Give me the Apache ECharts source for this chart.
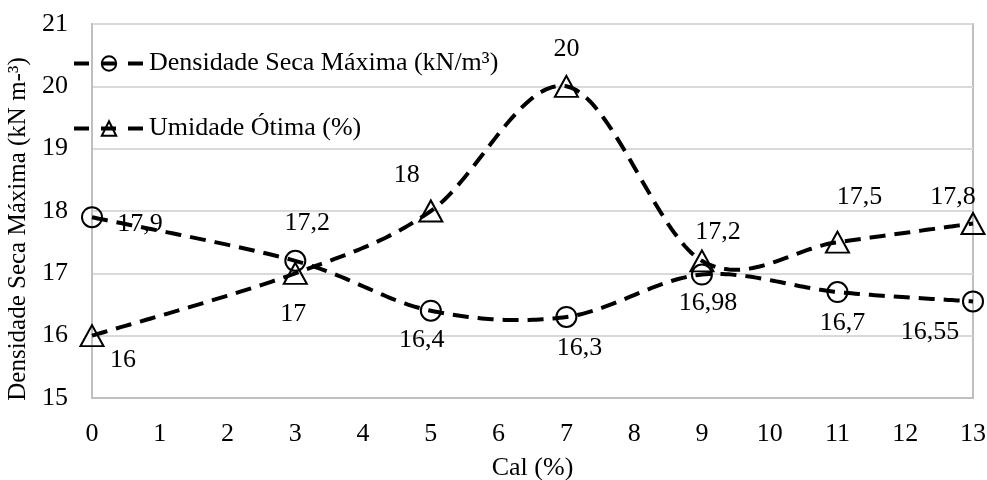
<!DOCTYPE html>
<html>
<head>
<meta charset="utf-8">
<script src="https://cdn.jsdelivr.net/npm/echarts@6/dist/echarts.min.js"></script>
<style>
  html, body { margin: 0; padding: 0; background: #fff; }
  #chart { width: 987px; height: 480px; }
</style>
</head>
<body>
<div id="chart"></div>
<script>
// Lime content (%) on the x axis
const cal = [0, 3, 5, 7, 9, 11, 13];
// Maximum dry density (kN/m³)
const densidade = [17.9, 17.2, 16.4, 16.3, 16.98, 16.7, 16.55];
// Optimum moisture content (%)
const umidade = [16, 17, 18, 20, 17.2, 17.5, 17.8];
const yTicks = [15, 16, 17, 18, 19, 20, 21];
const seriesNames = ['Densidade Seca Máxima (kN/m³)', 'Umidade Ótima (%)'];

// Label placement around each marker, [dx, dy] from the marker centre
const densLabelOffset = [[48, 7], [12, -38], [-9, 29], [13, 31], [6, 29], [5, 31], [-43, 31]];
const umidLabelOffset = [[31, 25], [-2, 41], [-24, -36], [0, -37], [16, -29], [22, -45], [-20, -26]];

const FONT = '"Liberation Serif", "Times New Roman", serif';
const fmt = v => String(v).replace('.', ',');

const LINE_W = 4;
const DASH = [16, 9];

function pairs(xs, ys, offsets) {
  return xs.map((x, i) => ({
    value: [x, ys[i]],
    label: { offset: offsets[i] }
  }));
}

// Cardinal (Catmull-Rom, 1/6 tangent) curve through the projected points,
// traced as a polyline so the dash pattern runs continuously.
function smoothCurve(ys) {
  return {
    type: 'custom',
    coordinateSystem: 'cartesian2d',
    silent: true,
    clip: false,
    z: 2,
    encode: { x: 0, y: 1 },
    data: cal.map((x, i) => [x, ys[i]]),
    renderItem: function (params, api) {
      if (params.dataIndex !== 0) return null;
      const p = cal.map((x, i) => api.coord([x, ys[i]]));
      const n = p.length;
      const out = [p[0].slice()];
      const steps = 40;
      for (let i = 0; i < n - 1; i++) {
        const p0 = p[Math.max(i - 1, 0)], p1 = p[i], p2 = p[i + 1], p3 = p[Math.min(i + 2, n - 1)];
        const c1 = [p1[0] + (p2[0] - p0[0]) / 6, p1[1] + (p2[1] - p0[1]) / 6];
        const c2 = [p2[0] - (p3[0] - p1[0]) / 6, p2[1] - (p3[1] - p1[1]) / 6];
        for (let s = 1; s <= steps; s++) {
          const t = s / steps, u = 1 - t;
          const a = u * u * u, b = 3 * u * u * t, c = 3 * u * t * t, d = t * t * t;
          out.push([
            a * p1[0] + b * c1[0] + c * c2[0] + d * p2[0],
            a * p1[1] + b * c1[1] + c * c2[1] + d * p2[1]
          ]);
        }
      }
      return {
        type: 'polyline',
        shape: { points: out },
        style: { stroke: '#000', lineWidth: LINE_W, lineDash: DASH, fill: 'none', lineCap: 'butt' }
      };
    }
  };
}

// Series line itself is hidden; the curve above draws it. Legend keeps the dashed line.
const lineStyle = { color: '#000', width: LINE_W, type: DASH, cap: 'butt', opacity: 0 };
// hollow markers: the curve stays visible through them
const markerStyle = { color: 'rgba(255,255,255,0)', borderColor: '#000', borderWidth: 2 };
const labelStyle = {
  show: true,
  position: 'inside',
  fontFamily: FONT,
  fontSize: 26,
  color: '#000',
  formatter: p => fmt(p.value[1])
};

const chart = echarts.init(document.getElementById('chart'), null, { renderer: 'canvas' });
chart.setOption({
  animation: false,
  backgroundColor: '#fff',
  textStyle: { fontFamily: FONT },
  grid: {
    left: 92, right: 14, top: 24, bottom: 82,
    outerBoundsMode: 'none',
    containLabel: false,
    show: true, borderColor: '#bfbfbf', borderWidth: 2, backgroundColor: 'transparent'
  },
  legend: {
    orient: 'vertical',
    left: 72, top: 50,
    padding: 0,
    itemWidth: 70, itemHeight: 18, itemGap: 38,
    itemStyle: { color: 'rgba(255,255,255,0)', borderColor: '#000', borderWidth: 2 },
    lineStyle: { color: '#000', width: LINE_W, type: [15, 12], opacity: 1 },
    textStyle: { fontFamily: FONT, fontSize: 26, color: '#000', lineHeight: 27 },
    data: seriesNames
  },
  xAxis: {
    type: 'value',
    min: 0, max: 13, interval: 1,
    name: 'Cal (%)',
    nameLocation: 'middle',
    nameGap: 57,
    nameTextStyle: { fontFamily: FONT, fontSize: 26, color: '#000' },
    axisLine: { show: true, lineStyle: { color: '#bfbfbf', width: 2 } },
    axisTick: { show: false },
    axisLabel: { fontFamily: FONT, fontSize: 26, color: '#000', margin: 23 },
    splitLine: { show: false }
  },
  yAxis: {
    type: 'value',
    min: yTicks[0], max: yTicks[yTicks.length - 1], interval: 1,
    name: 'Densidade Seca Máxima (kN m-³)',
    nameLocation: 'middle',
    nameGap: 60,
    nameTextStyle: { fontFamily: FONT, fontSize: 25, color: '#000', padding: [0, 36, 0, 0] },
    axisLine: { show: true, lineStyle: { color: '#bfbfbf', width: 2 } },
    axisTick: { show: false },
    axisLabel: { fontFamily: FONT, fontSize: 26, color: '#000', margin: 24 },
    splitLine: { show: true, lineStyle: { color: '#d9d9d9', width: 2 } }
  },
  series: [
    {
      name: seriesNames[0],
      type: 'line',
      symbol: 'circle',
      symbolSize: 20,
      lineStyle: lineStyle,
      itemStyle: markerStyle,
      label: labelStyle,
      data: pairs(cal, densidade, densLabelOffset),
      z: 3
    },
    {
      name: seriesNames[1],
      type: 'line',
      symbol: 'triangle',
      symbolSize: [23, 21],
      lineStyle: lineStyle,
      itemStyle: markerStyle,
      label: labelStyle,
      data: pairs(cal, umidade, umidLabelOffset),
      z: 4
    },
    smoothCurve(densidade),
    smoothCurve(umidade)
  ]
});
</script>
</body>
</html>
